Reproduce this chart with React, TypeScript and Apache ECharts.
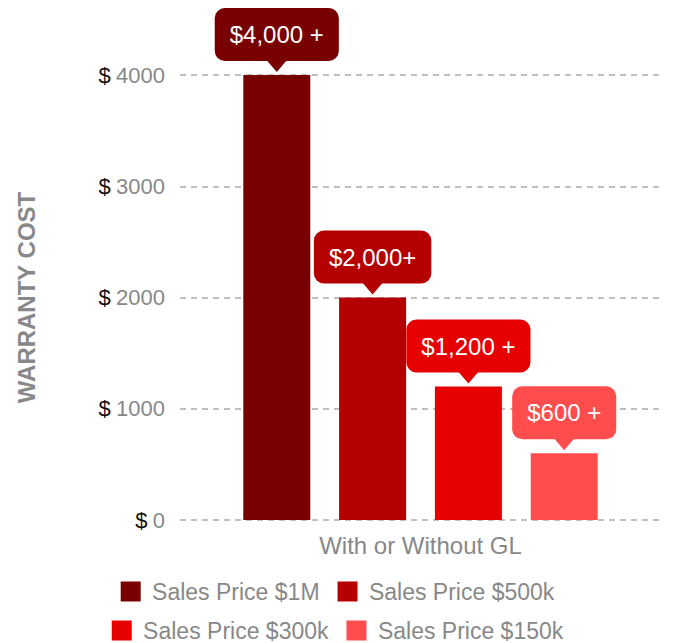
import React, { useEffect, useRef } from "react";
import * as echarts from "echarts";

const categories = ["With or Without GL"];
const seriesNames = ["Sales Price $1M", "Sales Price $500k", "Sales Price $300k", "Sales Price $150k"];
const seriesValues = [4000, 2000, 1200, 600];
const calloutTexts = ["$4,000 +", "$2,000+", "$1,200 +", "$600 +"];
const seriesColors = ["#780000", "#b40000", "#e60000", "#ff4d4d"];
const yTicks = [0, 1000, 2000, 3000, 4000];

const FONT = "'Liberation Sans', Arial, Helvetica, sans-serif";

export default function App() {
  const ref = useRef<HTMLDivElement>(null);
  useEffect(() => {
    if (!ref.current) return;
    const chart = echarts.init(ref.current, null, { renderer: "svg" });
    const series = seriesNames.map((name, i) => ({
      type: "bar",
      name,
      data: [seriesValues[i]],
      itemStyle: { color: seriesColors[i] },
      barWidth: 67,
      barGap: "43%",
      label: {
        show: true,
        position: "top",
        distance: 14,
        formatter: () => calloutTexts[i],
        color: "#ffffff",
        fontSize: 24,
        fontFamily: FONT,
        lineHeight: 25,
        backgroundColor: seriesColors[i],
        borderRadius: 10,
        padding: [14, 15, 14, 15],
      },
      markPoint: {
        symbol: "triangle",
        symbolSize: [24, 14],
        symbolRotate: 180,
        symbolOffset: [0, -10],
        itemStyle: { color: seriesColors[i] },
        label: { show: false },
        data: [{ type: "max" }],
        silent: true,
      },
    }));
    const legendBase = {
      left: "center",
      itemWidth: 20,
      itemHeight: 20,
      itemGap: 18,
      icon: "rect",
      formatter: (n: string) => " " + n,
      textStyle: { color: "#888", fontSize: 23, fontFamily: FONT },
    };
    chart.setOption({
      animation: false,
      textStyle: { fontFamily: FONT },
      grid: { left: 180, right: 14, top: 75, bottom: 123 },
      legend: [
        { ...legendBase, data: seriesNames.slice(0, 2), top: 575 },
        { ...legendBase, data: seriesNames.slice(2, 4), top: 614 },
      ],
      xAxis: {
        type: "category",
        data: categories,
        axisLine: { show: false },
        axisTick: { show: false },
        axisLabel: { color: "#888", fontSize: 24, margin: 13, fontFamily: FONT },
      },
      yAxis: {
        type: "value",
        min: yTicks[0],
        max: yTicks[yTicks.length - 1],
        interval: 1000,
        name: "WARRANTY COST",
        nameLocation: "middle",
        nameGap: 142,
        nameTextStyle: { color: "#888", fontSize: 24, fontWeight: "bold", fontFamily: FONT },
        axisLine: { show: false },
        axisTick: { show: false },
        splitLine: { show: true, lineStyle: { color: "#aaaaaa", type: [6, 5], width: 1.5 } },
        axisLabel: {
          margin: 15,
          formatter: (v: number) => `{d|$} {n|${v}}`,
          rich: {
            d: { color: "#111", fontSize: 22, fontFamily: FONT, padding: [0, 2, 0, 0] },
            n: { color: "#888", fontSize: 22, fontFamily: FONT },
          },
        },
      },
      series,
    });
    return () => chart.dispose();
  }, []);
  return <div ref={ref} style={{ width: 675, height: 643, position: "absolute", left: 0, top: 0 }} />;
}
